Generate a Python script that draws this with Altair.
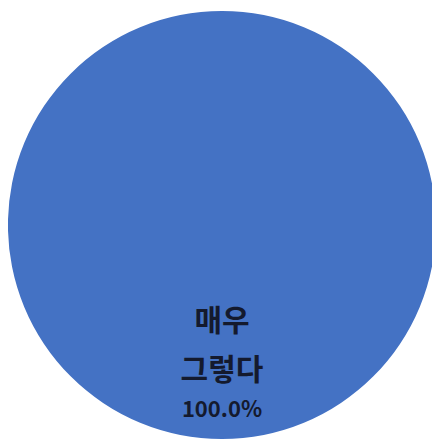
import altair as alt
import pandas as pd

categories = ["매우 그렇다"]
values = [100.0]
colors = ["#4472C4"]

total = sum(values)
cat_lines = [c.split(" ") for c in categories]
pct_labels = [f"{v / total * 100:.1f}%" for v in values]

df = pd.DataFrame({"category": categories, "value": values,
                   "cat_label": cat_lines, "pct_label": pct_labels})

base = alt.Chart(df).encode(
    theta=alt.Theta("value:Q", stack=True),
    x=alt.value(214),
    y=alt.value(217),
)

pie = base.mark_arc(outerRadius=214, stroke=None).encode(
    color=alt.Color("category:N", scale=alt.Scale(domain=categories, range=colors), legend=None)
)

cat_text = base.mark_text(
    radius=97,
    font="Noto Sans CJK KR",
    fontSize=30,
    fontWeight="bold",
    color="#141a2e",
    lineHeight=49,
    baseline="middle",
    align="center",
).encode(text="cat_label")

pct_text = base.mark_text(
    radius=185,
    font="Noto Sans CJK KR",
    fontSize=22,
    fontWeight="bold",
    color="#141a2e",
    baseline="middle",
    align="center",
).encode(text="pct_label")

chart = (pie + cat_text + pct_text).properties(
    width=424,
    height=432,
    padding=0,
    autosize=alt.AutoSizeParams(type="none"),
    background="white",
).configure_view(stroke=None)

chart.save("out.html", embed_options={"renderer": "svg", "actions": False})
